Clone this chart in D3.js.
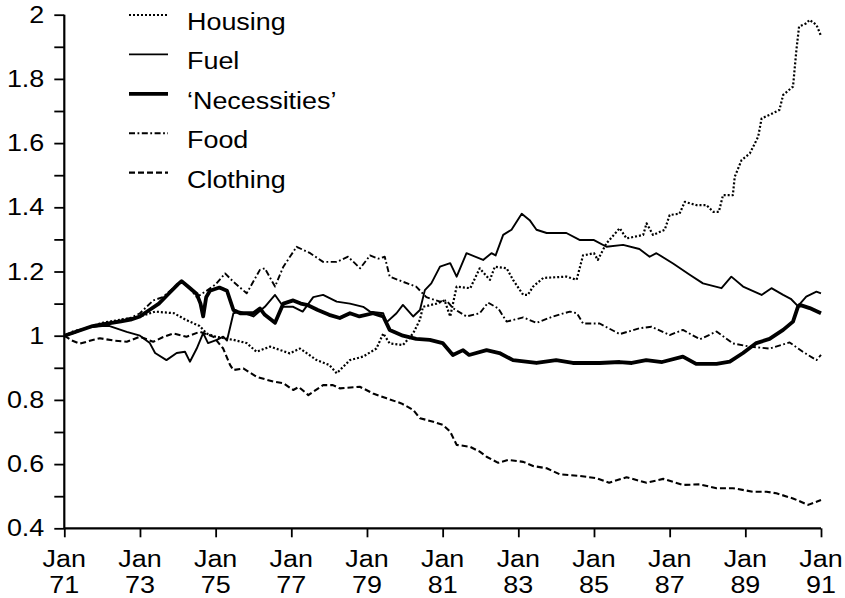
<!DOCTYPE html>
<html>
<head>
<meta charset="utf-8">
<script src="https://cdn.jsdelivr.net/npm/d3@7"></script>
<style>
  html, body { margin: 0; padding: 0; background: #fff; }
  svg { display: block; }
  text { font-family: "Liberation Sans", Arial, Helvetica, sans-serif; fill: #000; }
</style>
</head>
<body>
<svg id="chart" width="845" height="598"></svg>
<script>
// ---- Data (decimal year, index value; Jan 1971 = 1) ----
const seriesNames = ["Housing", "Fuel", "\u2018Necessities\u2019", "Food", "Clothing"];

const housing = [[1971.0,1.0],[1971.5,1.02],[1972.0,1.04],[1972.5,1.05],[1973.0,1.06],[1973.4,1.075],[1973.9,1.07],[1974.2,1.05],[1974.58,1.03],[1974.76,1.007],[1975.0,0.997],[1975.47,0.987],[1975.82,0.977],[1976.08,0.95],[1976.44,0.966],[1976.96,0.945],[1977.23,0.96],[1977.67,0.924],[1978.0,0.909],[1978.2,0.883],[1978.55,0.924],[1978.9,0.935],[1979.25,0.96],[1979.43,1.007],[1979.6,0.976],[1979.95,0.971],[1980.22,1.007],[1980.4,1.05],[1980.48,1.09],[1980.84,1.10],[1981.05,1.11],[1981.2,1.06],[1981.37,1.153],[1981.73,1.148],[1981.98,1.21],[1982.25,1.174],[1982.38,1.215],[1982.69,1.21],[1982.86,1.174],[1983.13,1.127],[1983.25,1.127],[1983.39,1.153],[1983.66,1.18],[1984.27,1.184],[1984.54,1.174],[1984.71,1.25],[1985.0,1.257],[1985.1,1.236],[1985.33,1.288],[1985.68,1.335],[1985.86,1.303],[1986.3,1.314],[1986.39,1.35],[1986.56,1.314],[1986.87,1.33],[1987.0,1.376],[1987.26,1.38],[1987.4,1.417],[1987.7,1.407],[1987.97,1.407],[1988.15,1.386],[1988.3,1.386],[1988.41,1.438],[1988.67,1.438],[1988.72,1.495],[1988.9,1.547],[1989.12,1.568],[1989.34,1.62],[1989.43,1.677],[1989.64,1.688],[1989.9,1.703],[1990.0,1.75],[1990.26,1.776],[1990.35,1.89],[1990.42,1.963],[1990.61,1.973],[1990.7,1.984],[1990.88,1.968],[1991.0,1.934]];

const fuel = [[1971.0,1.0],[1971.3,1.01],[1971.6,1.025],[1972.0,1.03],[1972.2,1.03],[1972.65,1.012],[1973.0,1.0],[1973.26,0.977],[1973.4,0.946],[1973.7,0.924],[1973.97,0.946],[1974.19,0.95],[1974.32,0.919],[1974.5,0.96],[1974.67,1.008],[1974.8,0.977],[1975.03,0.987],[1975.2,0.997],[1975.3,0.985],[1975.47,1.07],[1975.64,1.075],[1976.0,1.06],[1976.3,1.09],[1976.57,1.127],[1976.79,1.09],[1977.05,1.09],[1977.3,1.075],[1977.58,1.12],[1977.84,1.127],[1978.2,1.106],[1978.55,1.10],[1978.9,1.09],[1979.08,1.075],[1979.43,1.07],[1979.5,1.04],[1979.78,1.07],[1979.95,1.096],[1980.22,1.06],[1980.4,1.08],[1980.53,1.142],[1980.7,1.163],[1980.93,1.215],[1981.2,1.226],[1981.37,1.184],[1981.63,1.257],[1982.07,1.236],[1982.29,1.257],[1982.4,1.25],[1982.6,1.314],[1982.82,1.33],[1983.09,1.38],[1983.3,1.36],[1983.48,1.33],[1983.75,1.32],[1984.27,1.32],[1984.63,1.298],[1985.0,1.298],[1985.33,1.277],[1985.77,1.283],[1986.2,1.27],[1986.47,1.246],[1986.65,1.257],[1987.09,1.225],[1987.53,1.19],[1987.88,1.163],[1988.37,1.148],[1988.63,1.184],[1988.94,1.153],[1989.43,1.127],[1989.69,1.148],[1990.0,1.127],[1990.2,1.115],[1990.39,1.092],[1990.61,1.122],[1990.88,1.137],[1991.0,1.132]];

const necessities = [[1971.0,1.0],[1971.25,1.01],[1971.5,1.02],[1971.75,1.03],[1972.0,1.035],[1972.25,1.04],[1972.5,1.045],[1972.75,1.05],[1973.0,1.06],[1973.25,1.08],[1973.5,1.10],[1973.75,1.13],[1974.0,1.16],[1974.1,1.17],[1974.3,1.15],[1974.5,1.13],[1974.6,1.10],[1974.67,1.06],[1974.75,1.12],[1974.85,1.14],[1975.1,1.15],[1975.3,1.14],[1975.47,1.08],[1975.65,1.07],[1975.85,1.07],[1976.0,1.07],[1976.17,1.085],[1976.3,1.065],[1976.57,1.04],[1976.79,1.10],[1977.05,1.11],[1977.25,1.10],[1977.44,1.095],[1977.7,1.08],[1978.0,1.065],[1978.28,1.055],[1978.55,1.07],[1978.8,1.06],[1979.16,1.07],[1979.43,1.06],[1979.6,1.018],[1979.95,1.0],[1980.3,0.99],[1980.66,0.987],[1981.0,0.977],[1981.27,0.94],[1981.54,0.955],[1981.7,0.94],[1982.16,0.955],[1982.5,0.946],[1982.86,0.924],[1983.48,0.915],[1984.0,0.924],[1984.44,0.915],[1985.15,0.915],[1985.68,0.918],[1986.0,0.915],[1986.38,0.924],[1986.8,0.918],[1987.35,0.935],[1987.7,0.912],[1988.24,0.912],[1988.59,0.919],[1988.94,0.946],[1989.29,0.977],[1989.64,0.99],[1990.0,1.018],[1990.26,1.044],[1990.39,1.09],[1990.44,1.096],[1990.7,1.086],[1991.0,1.07]];

const food = [[1971.0,1.0],[1971.25,1.015],[1971.5,1.02],[1971.75,1.03],[1972.0,1.035],[1972.25,1.04],[1972.5,1.05],[1972.75,1.055],[1973.0,1.07],[1973.35,1.11],[1973.6,1.12],[1973.9,1.15],[1974.1,1.17],[1974.3,1.15],[1974.5,1.12],[1974.76,1.14],[1975.0,1.16],[1975.25,1.194],[1975.47,1.168],[1975.82,1.132],[1976.17,1.205],[1976.3,1.21],[1976.57,1.153],[1976.79,1.215],[1977.14,1.277],[1977.5,1.257],[1977.84,1.23],[1978.2,1.23],[1978.5,1.246],[1978.82,1.21],[1979.08,1.25],[1979.3,1.24],[1979.47,1.246],[1979.6,1.184],[1979.95,1.168],[1980.3,1.153],[1980.57,1.12],[1980.93,1.106],[1981.1,1.11],[1981.27,1.086],[1981.63,1.06],[1981.98,1.07],[1982.2,1.103],[1982.47,1.085],[1982.69,1.044],[1983.13,1.057],[1983.48,1.04],[1983.92,1.06],[1984.36,1.075],[1984.55,1.07],[1984.71,1.038],[1985.15,1.038],[1985.68,1.005],[1986.2,1.023],[1986.52,1.028],[1987.0,1.002],[1987.35,1.018],[1987.8,0.989],[1988.24,1.013],[1988.67,0.976],[1989.12,0.966],[1989.64,0.96],[1990.17,0.979],[1990.52,0.95],[1990.88,0.924],[1991.0,0.94]];

const clothing = [[1971.0,1.0],[1971.2,0.985],[1971.41,0.975],[1971.7,0.985],[1971.94,0.992],[1972.3,0.985],[1972.65,0.981],[1973.0,0.997],[1973.35,0.981],[1973.6,0.995],[1973.88,1.007],[1974.23,0.997],[1974.58,1.012],[1974.94,0.997],[1975.2,0.96],[1975.38,0.909],[1975.47,0.893],[1975.73,0.898],[1976.08,0.872],[1976.52,0.857],[1976.79,0.852],[1977.05,0.831],[1977.2,0.84],[1977.45,0.815],[1977.84,0.846],[1978.1,0.846],[1978.28,0.836],[1978.81,0.841],[1979.16,0.82],[1979.52,0.805],[1979.91,0.789],[1980.22,0.769],[1980.4,0.743],[1980.75,0.732],[1981.01,0.722],[1981.2,0.701],[1981.37,0.66],[1981.72,0.654],[1981.98,0.639],[1982.16,0.623],[1982.47,0.604],[1982.73,0.613],[1983.13,0.607],[1983.39,0.594],[1983.75,0.587],[1984.1,0.568],[1984.63,0.563],[1985.07,0.556],[1985.4,0.542],[1985.86,0.559],[1986.39,0.542],[1986.83,0.554],[1987.35,0.535],[1987.79,0.537],[1988.24,0.525],[1988.67,0.525],[1989.2,0.514],[1989.56,0.514],[1989.82,0.509],[1990.26,0.493],[1990.66,0.473],[1991.0,0.488]];

const xTickYears = [1971,1973,1975,1977,1979,1981,1983,1985,1987,1989,1991];
const xTickLabels = ["71","73","75","77","79","81","83","85","87","89","91"];
const yTickValues = [0.4,0.5,0.6,0.7,0.8,0.9,1.0,1.1,1.2,1.3,1.4,1.5,1.6,1.7,1.8,1.9,2.0];
const yLabelValues = [0.4,0.6,0.8,1.0,1.2,1.4,1.6,1.8,2.0];
const yLabelTexts = ["0.4","0.6","0.8","1","1.2","1.4","1.6","1.8","2"];

// ---- Styles per series ----
const styles = [
  { data: housing,     width: 2.2, dash: "2,2" },
  { data: fuel,        width: 1.9, dash: null },
  { data: necessities, width: 3.8, dash: null },
  { data: food,        width: 1.9, dash: "6,2.5,1.8,2.5" },
  { data: clothing,    width: 2.1, dash: "6,3" }
];

const svg = d3.select("#chart");
const x = d3.scaleLinear().domain([1971, 1991]).range([64.3, 821]);
const y = d3.scaleLinear().domain([0.4, 2.0]).range([528.3, 14.7]);
const SX = 1.17; // horizontal stretch of the printed lettering
const FS = 23;

// Axes
const yAxis = svg.append("g").attr("transform", `translate(${x(1971)},0)`)
  .call(d3.axisLeft(y).tickValues(yTickValues).tickSize(10).tickFormat(""));
const xAxis = svg.append("g").attr("transform", `translate(0,${y(0.4)})`)
  .call(d3.axisBottom(x).tickValues(xTickYears).tickSize(9).tickFormat(""));
[yAxis, xAxis].forEach(g => {
  g.select(".domain").attr("stroke", "#000").attr("stroke-width", 2.2);
  g.selectAll(".tick line").attr("stroke", "#000").attr("stroke-width", 1.8);
});
yAxis.select(".domain").attr("d", `M-0,${y(0.4)}V${y(2.0)}`);
xAxis.select(".domain").attr("d", `M${x(1971)},0H${x(1991)}`);

// Y labels
svg.append("g").selectAll("text").data(yLabelValues).join("text")
  .attr("transform", (d) => `translate(${x(1971) - 20},${y(d) + 8}) scale(${SX},1)`)
  .attr("text-anchor", "end")
  .attr("font-size", FS)
  .text((d, i) => yLabelTexts[i]);

// X labels
const xl = svg.append("g").selectAll("g").data(xTickYears).join("g");
xl.append("text")
  .attr("transform", d => `translate(${x(d)},567) scale(${SX},1)`)
  .attr("text-anchor", "middle").attr("font-size", FS).text("Jan");
xl.append("text")
  .attr("transform", d => `translate(${x(d)},593) scale(${SX},1)`)
  .attr("text-anchor", "middle").attr("font-size", FS)
  .text((d, i) => xTickLabels[i]);

// Lines
const line = d3.line().x(d => x(d[0])).y(d => y(d[1]));
svg.append("g").selectAll("path").data(styles).join("path")
  .attr("d", s => line(s.data))
  .attr("fill", "none")
  .attr("stroke", "#000")
  .attr("stroke-width", s => s.width)
  .attr("stroke-linejoin", "round")
  .attr("stroke-dasharray", s => s.dash);

// Legend
const leg = svg.append("g").selectAll("g").data(styles).join("g")
  .attr("transform", (d, i) => `translate(0,${30 + i * 39.4})`);
leg.append("line")
  .attr("x1", 129).attr("x2", 168).attr("y1", -15).attr("y2", -15)
  .attr("stroke", "#000")
  .attr("stroke-width", s => s.width)
  .attr("stroke-dasharray", s => s.dash);
leg.append("text")
  .attr("transform", `translate(187,0) scale(${SX},1)`)
  .attr("font-size", FS)
  .text((d, i) => seriesNames[i]);
</script>
</body>
</html>
